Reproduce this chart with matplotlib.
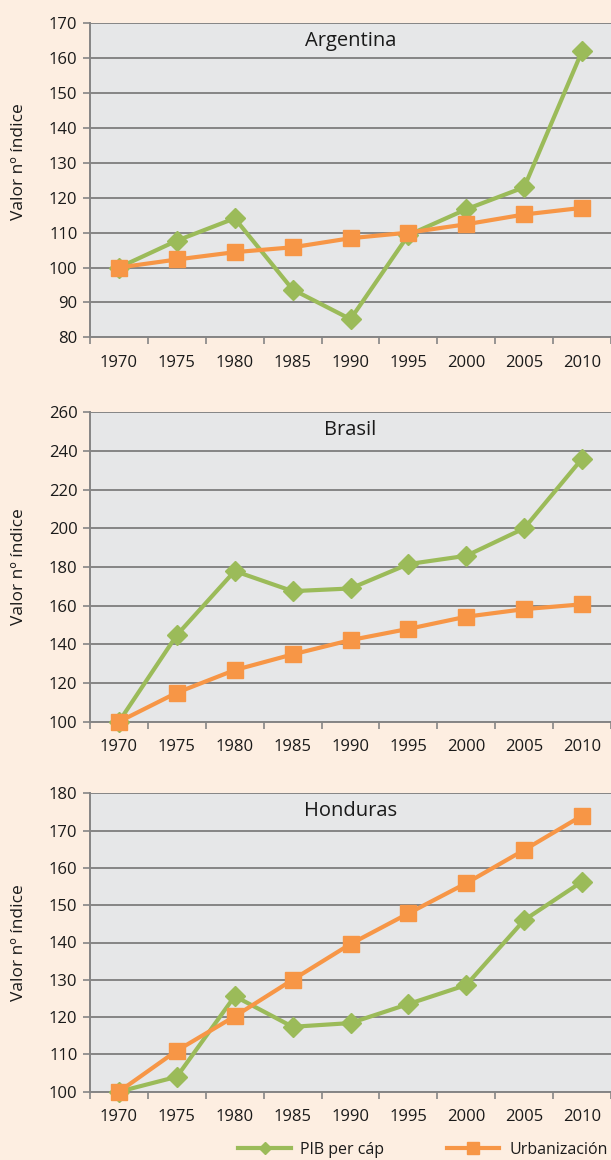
import matplotlib.pyplot as plt
from matplotlib.lines import Line2D
from matplotlib.ticker import FixedLocator

plt.rcParams['font.family'] = ['Open Sans', 'DejaVu Sans']

years = ['1970', '1975', '1980', '1985', '1990', '1995', '2000', '2005', '2010']

arg_pib = [100, 107.7, 114.1, 93.7, 85.2, 109.3, 116.7, 123, 162]
arg_urb = [100, 102.3, 104.4, 105.8, 108.4, 110, 112.4, 115.2, 117.1]

bra_pib = [100, 144.8, 177.9, 167.5, 168.9, 181.5, 185.8, 200, 236]
bra_urb = [100, 115, 126.7, 134.8, 142.2, 148, 154.3, 158.2, 160.7]

hon_pib = [100, 104, 125.6, 117.4, 118.4, 123.5, 128.6, 146, 156.3]
hon_urb = [100, 111, 120.2, 130, 139.6, 147.8, 155.9, 164.8, 174]

panels = [
    ('Argentina', arg_pib, arg_urb, 80, 170, 10),
    ('Brasil', bra_pib, bra_urb, 100, 260, 20),
    ('Honduras', hon_pib, hon_urb, 100, 180, 10),
]

# axes boxes in pixels: top, bottom, y-label position (axes fraction)
boxes = [(23.3, 337.3, 0.56), (412.3, 721.7, 0.5), (793.3, 1091.7, 0.5)]

W, H = 611, 1160
left = 90
bg = '#FDEEE1'
green = '#9BBB59'
orange = '#F79646'
grid = '#858585'
ink = '#1a1a1a'

fig = plt.figure(figsize=(W / 100, H / 100), dpi=100, facecolor=bg)

for (name, pib, urb, lo, hi, step), (top, bot, ylab) in zip(panels, boxes):
    ax = fig.add_axes([left / W, 1 - bot / H, (W - left) / W, (bot - top) / H])
    ax.set_facecolor('#E6E7E8')
    x = list(range(len(years)))
    ax.plot(x, pib, color=green, lw=3, marker='D', ms=10.5, zorder=3,
            clip_on=False)
    ax.plot(x, urb, color=orange, lw=3, marker='s', ms=12, zorder=4,
            clip_on=False)
    ax.set_xlim(-0.5, len(years) - 0.5)
    ax.set_ylim(lo, hi)
    ax.set_yticks(range(lo, hi + 1, step))
    ax.yaxis.grid(True, color=grid, lw=1.4)
    ax.set_axisbelow(True)
    ax.set_xticks(x)
    ax.set_xticklabels(years)
    ax.xaxis.set_minor_locator(FixedLocator([i - 0.5 for i in range(len(years) + 1)]))
    ax.tick_params(axis='x', which='major', length=0, pad=12.5, labelsize=12,
                   labelcolor=ink)
    ax.tick_params(axis='x', which='minor', length=5, width=1.2, color=grid)
    ax.tick_params(axis='y', length=5, width=1.2, color=grid, labelsize=12,
                   labelcolor=ink, pad=4)
    for s in ['top', 'right']:
        ax.spines[s].set_visible(False)
    for s in ['left', 'bottom']:
        ax.spines[s].set_color(grid)
        ax.spines[s].set_linewidth(1.4)
    ax.set_ylabel('Valor nº índice', fontsize=12.5, color=ink, va='center')
    ax.yaxis.set_label_coords(-(left - 19) / (W - left), ylab)
    ax.text(0.5, 0.975, name, transform=ax.transAxes, ha='center', va='top',
            fontsize=14.5, color=ink)

handles = [
    Line2D([], [], color=green, lw=3, marker='D', ms=6),
    Line2D([], [], color=orange, lw=3, marker='s', ms=8),
]
fig.legend(handles, ['PIB per cáp', 'Urbanización'], loc='center',
           bbox_to_anchor=(0.692, 1 - 1150 / H), ncol=2, frameon=False,
           fontsize=11.5, handlelength=3.3, columnspacing=3.9,
           handletextpad=0.6, labelcolor=ink, borderpad=0)

fig.savefig('out.png', dpi=100, facecolor=bg)
